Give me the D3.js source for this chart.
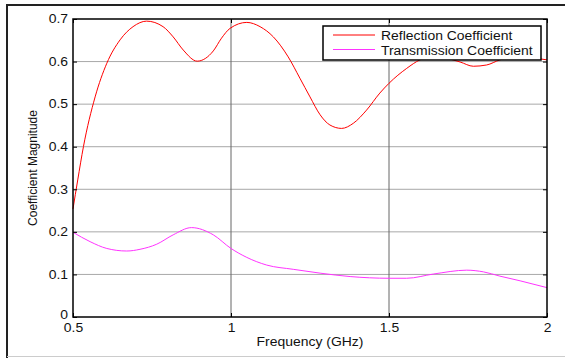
<!DOCTYPE html>
<html>
<head>
<meta charset="utf-8">
<script src="https://cdn.jsdelivr.net/npm/d3@7"></script>
<style>
  body { margin: 0; background: #fff; }
  svg text { font-family: "Liberation Sans", Arial, sans-serif; fill: #111; }
</style>
</head>
<body>
<div id="chart"></div>
<script>
var reflFreq = [0.5, 0.515, 0.533, 0.57, 0.607, 0.649, 0.69, 0.733, 0.785, 0.817, 0.849, 0.893, 0.944, 0.97, 0.997, 1.05, 1.092, 1.134, 1.181, 1.218, 1.25, 1.282, 1.313, 1.35, 1.387, 1.429, 1.471, 1.5, 1.556, 1.598, 1.64, 1.68, 1.725, 1.767, 1.809, 1.851, 1.9, 1.95, 2.0]
var reflMag  = [0.254, 0.322, 0.40, 0.517, 0.596, 0.651, 0.682, 0.695, 0.682, 0.658, 0.627, 0.601, 0.625, 0.655, 0.678, 0.692, 0.682, 0.658, 0.611, 0.561, 0.517, 0.475, 0.451, 0.443, 0.455, 0.486, 0.526, 0.549, 0.584, 0.604, 0.612, 0.608, 0.599, 0.589, 0.592, 0.604, 0.612, 0.609, 0.604]

var transFreq = [0.5, 0.554, 0.607, 0.67, 0.712, 0.765, 0.817, 0.875, 0.944, 1.0, 1.05, 1.113, 1.197, 1.282, 1.377, 1.5, 1.556, 1.641, 1.746, 1.799, 1.851, 1.915, 2.0]
var transMag  = [0.199, 0.177, 0.161, 0.155, 0.159, 0.171, 0.193, 0.21, 0.193, 0.161, 0.140, 0.122, 0.112, 0.103, 0.095, 0.091, 0.091, 0.101, 0.110, 0.106, 0.096, 0.085, 0.069]

var xTicks = [0.5, 1, 1.5, 2]
var yTicks = [0, 0.1, 0.2, 0.3, 0.4, 0.5, 0.6, 0.7]
var seriesNames = ["Reflection Coefficient", "Transmission Coefficient"]
var seriesColors = ["#ff0000", "#ff33ff"]

var W = 565, H = 358
var margin = {top: 19, right: 18, bottom: 41, left: 73}
var width = W - margin.left - margin.right
var height = H - margin.top - margin.bottom
var STRETCH = 1.16   // the picture's text is a bit wide

var svg = d3.select("#chart").append("svg")
    .attr("width", W)
    .attr("height", H)

// outer frame (top + left dark, bottom light)
svg.append("line").attr("x1", 6).attr("x2", W).attr("y1", 5).attr("y2", 5)
    .attr("stroke", "#222").attr("stroke-width", 2)
svg.append("line").attr("x1", 7).attr("x2", 7).attr("y1", 4).attr("y2", H)
    .attr("stroke", "#222").attr("stroke-width", 2)
svg.append("line").attr("x1", 7).attr("x2", W).attr("y1", 356.5).attr("y2", 356.5)
    .attr("stroke", "#ccc").attr("stroke-width", 1)

var g = svg.append("g")
    .attr("transform", "translate(" + margin.left + "," + margin.top + ")")

var x = d3.scaleLinear().domain([0.5, 2]).range([0, width])
var y = d3.scaleLinear().domain([0, 0.7]).range([height, 0])

// grid
g.selectAll(".hgrid")
    .data(yTicks.slice(1, -1))
  .enter().append("line")
    .attr("x1", 0).attr("x2", width)
    .attr("y1", function(d) { return y(d) }).attr("y2", function(d) { return y(d) })
    .attr("stroke", "#a8a8a8").attr("stroke-width", 1)
g.selectAll(".vgrid")
    .data(xTicks.slice(1, -1))
  .enter().append("line")
    .attr("y1", 0).attr("y2", height)
    .attr("x1", function(d) { return x(d) }).attr("x2", function(d) { return x(d) })
    .attr("stroke", "#666").attr("stroke-width", 1)

// curves
var line = d3.line()
    .x(function(d) { return x(d[0]) })
    .y(function(d) { return y(d[1]) })
    .curve(d3.curveMonotoneX)

g.append("path")
    .datum(d3.zip(transFreq, transMag))
    .attr("d", line)
    .attr("fill", "none").attr("stroke", seriesColors[1]).attr("stroke-width", 1)
g.append("path")
    .datum(d3.zip(reflFreq, reflMag))
    .attr("d", line)
    .attr("fill", "none").attr("stroke", seriesColors[0]).attr("stroke-width", 1)

// axes, ticks inside
var fmt = function(d) { return d === 0 ? "0" : String(d) }
var bottom = g.append("g").attr("transform", "translate(0," + height + ")")
    .call(d3.axisBottom(x).tickValues(xTicks).tickFormat(fmt).tickSizeInner(-4).tickSizeOuter(0).tickPadding(6))
var left = g.append("g")
    .call(d3.axisLeft(y).tickValues(yTicks).tickFormat(fmt).tickSizeInner(-4).tickSizeOuter(0).tickPadding(5))
g.append("g")
    .call(d3.axisTop(x).tickValues(xTicks).tickFormat("").tickSizeInner(-4).tickSizeOuter(0))
g.append("g").attr("transform", "translate(" + width + ",0)")
    .call(d3.axisRight(y).tickValues(yTicks).tickFormat("").tickSizeInner(-4).tickSizeOuter(0))

g.selectAll(".domain").remove()
g.selectAll(".tick line").attr("stroke", "#000")
g.selectAll(".tick text").attr("font-size", "12px").attr("fill", "#111")
    .style("font-family", "'Liberation Sans', Arial, sans-serif")
// the "0" sits a little above its tick in the picture
left.selectAll(".tick text").filter(function(d) { return d === 0 }).attr("dy", "0.1em")

// plot box
g.append("rect")
    .attr("width", width).attr("height", height)
    .attr("fill", "none").attr("stroke", "#000").attr("stroke-width", 1.5)

// labels
g.append("text")
    .attr("x", width / 2).attr("y", height + 29)
    .attr("text-anchor", "middle")
    .attr("font-size", "12px")
    .text("Frequency (GHz)")

svg.append("text")
    .attr("transform", "translate(37," + (margin.top + height / 2) + ") rotate(-90)")
    .attr("text-anchor", "middle")
    .attr("font-size", "12px")
    .text("Coefficient Magnitude")

// legend
var leg = g.append("g").attr("transform", "translate(" + (323 - margin.left) + "," + (26 - margin.top) + ")")
leg.append("rect")
    .attr("width", 218).attr("height", 34)
    .attr("fill", "#fff").attr("stroke", "#000").attr("stroke-width", 1.5)
seriesNames.forEach(function(name, i) {
    leg.append("line")
        .attr("x1", 10).attr("x2", 52)
        .attr("y1", 9 + i * 14.5).attr("y2", 9 + i * 14.5)
        .attr("stroke", seriesColors[i]).attr("stroke-width", 1)
    leg.append("text")
        .attr("x", 58).attr("y", 14 + i * 14.5)
        .attr("font-size", "12px")
        .text(name)
})

// widen horizontal text to match the picture
svg.selectAll("text").each(function() {
    var t = d3.select(this)
    if ((t.attr("transform") || "").indexOf("rotate") >= 0) return
    var len = this.getComputedTextLength()
    if (len > 0) {
        t.attr("textLength", len * STRETCH).attr("lengthAdjust", "spacingAndGlyphs")
    }
})
</script>
</body>
</html>
